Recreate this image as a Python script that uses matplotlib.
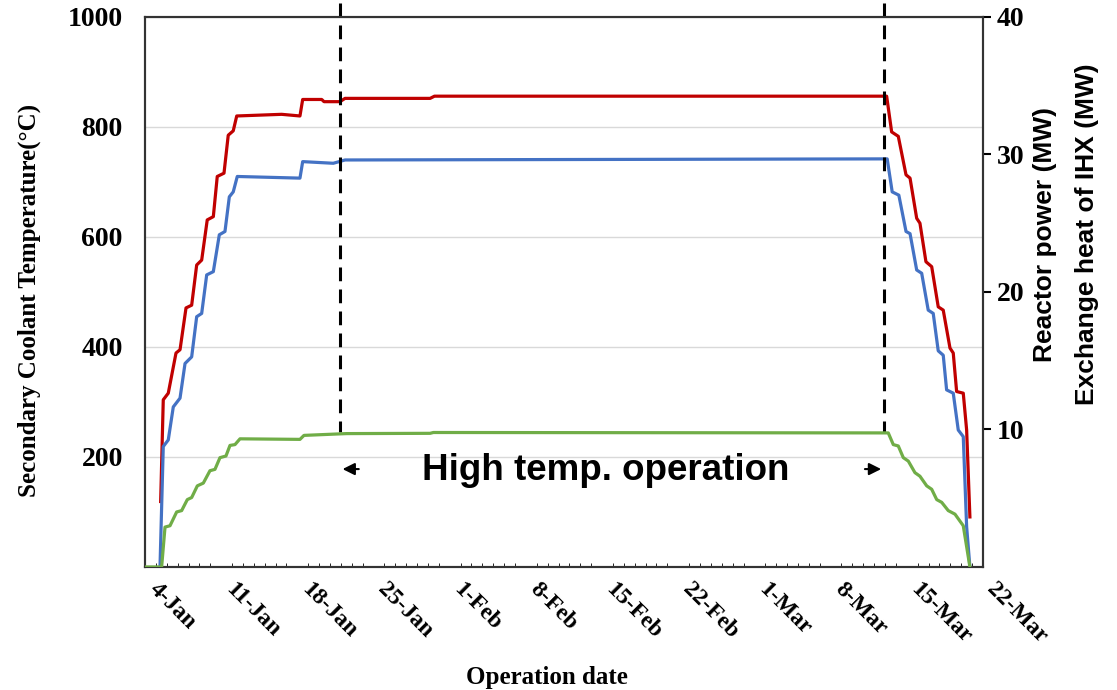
import matplotlib.pyplot as plt

# days counted from 4-Jan
date_labels = ['4-Jan', '11-Jan', '18-Jan', '25-Jan', '1-Feb', '8-Feb',
               '15-Feb', '22-Feb', '1-Mar', '8-Mar', '15-Mar', '22-Mar']

# outlet temperature (red)
red_day = [1.44, 1.68, 2.14, 2.85, 3.22, 3.77, 4.29, 4.75, 5.21, 5.72, 6.28,
           6.64, 7.26, 7.65, 8.11, 8.43, 12.56, 14.24, 14.49, 16.24, 16.45,
           17.92, 18.38, 26.2, 26.6, 68.15, 68.61, 69.22, 69.93, 70.3, 70.91,
           71.21, 71.76, 72.29, 72.89, 73.35, 73.97, 74.27, 74.58, 75.19,
           75.5, 75.8]
red_temp = [119, 304, 316, 389, 395, 471, 476, 549, 558, 631, 637,
            710, 716, 785, 793, 820, 823, 820, 850, 850, 846,
            846, 852, 852, 856, 856, 791, 783, 713, 707, 634,
            625, 555, 546, 473, 467, 398, 389, 319, 316,
            249, 91]

# inlet temperature (blue)
blue_day = [1.38, 1.68, 2.14, 2.6, 3.22, 3.68, 4.29, 4.75, 5.21, 5.67, 6.28,
            6.83, 7.35, 7.75, 8.11, 8.48, 14.24, 14.49, 17.3, 18.38, 68.2,
            68.66, 69.27, 69.93, 70.3, 70.91, 71.37, 71.97, 72.43, 72.89,
            73.35, 73.66, 74.27, 74.73, 75.19, 75.5, 75.8]
blue_temp = [0, 219, 231, 291, 307, 370, 382, 455, 461, 531, 537,
             604, 610, 673, 682, 710, 707, 737, 734, 740, 742,
             682, 676, 610, 606, 540, 534, 467, 461, 393,
             385, 322, 316, 249, 237, 73, 0]

# reactor power (green, MW)
green_day = [0, 1.53, 1.84, 2.3, 2.91, 3.37, 3.89, 4.29, 4.81, 5.36, 5.97,
             6.43, 6.89, 7.44, 7.81, 8.27, 8.73, 14.24, 14.61, 18.53, 26.2,
             26.5, 68.3, 68.76, 69.22, 69.68, 70.14, 70.75, 71.21, 71.83,
             72.29, 72.75, 73.21, 73.81, 74.43, 75.19, 75.8]
green_mw = [0, 0, 2.9, 3.0, 4.0, 4.1, 4.9, 5.05, 5.9, 6.1, 7.0,
            7.1, 7.95, 8.07, 8.84, 8.9, 9.32, 9.28, 9.57, 9.7, 9.72,
            9.78, 9.75, 8.9, 8.8, 7.95, 7.7, 6.86, 6.6, 5.9,
            5.65, 4.9, 4.7, 4.1, 3.84, 3.0, 0]

high_temp_start = 17.9
high_temp_end = 67.9

serif = 'Liberation Serif'
sans = 'Liberation Sans'

fig = plt.figure(figsize=(11.17, 6.9), dpi=100)
ax = fig.add_axes([0.1298, 0.1783, 0.7502, 0.7971])
ax2 = ax.twinx()

ax.plot(red_day, red_temp, color='#c00000', lw=2.3, zorder=3)
ax.plot(blue_day, blue_temp, color='#4472c4', lw=2.3, zorder=3)
ax2.plot(green_day, green_mw, color='#70ad47', lw=2.3, zorder=3)

ax.set_xlim(0, 77)
ax.set_ylim(0, 1000)
ax2.set_ylim(0, 40)

ax.set_yticks([200, 400, 600, 800, 1000])
ax.grid(axis='y', color='#d9d9d9', lw=1)
ax.set_axisbelow(True)
ax.tick_params(axis='y', length=0, pad=16)
for lab in ax.get_yticklabels():
    lab.set_fontfamily(serif)
    lab.set_fontweight('bold')
    lab.set_fontsize(20)

ax2.set_yticks([10, 20, 30, 40])
ax2.tick_params(axis='y', length=6, width=1.5, pad=4)
for lab in ax2.get_yticklabels():
    lab.set_fontfamily(serif)
    lab.set_fontweight('bold')
    lab.set_fontsize(20)

ax.set_xticks(range(0, 78, 7))
ax.set_xticklabels(date_labels, rotation=-45, ha='left', va='bottom',
                   rotation_mode='anchor', fontfamily=serif,
                   fontweight='bold', fontsize=17)
ax.set_xticks(range(0, 78), minor=True)
ax.tick_params(axis='x', which='major', length=0, pad=19)
ax.tick_params(axis='x', which='minor', length=3, direction='in')

for a in (ax, ax2):
    for s in a.spines.values():
        s.set_color('#333333')
        s.set_linewidth(1.5)

# dashed markers for the high temperature period
for d in (high_temp_start, high_temp_end):
    ax.plot([d, d], [1025, 246], color='black', lw=2.2,
            ls=(0, (4.5, 2.7)), clip_on=False, zorder=4)

ax.annotate('', xy=(high_temp_start, 178), xytext=(high_temp_start + 2, 178),
            arrowprops=dict(arrowstyle='-|>', color='black', lw=1.5,
                            mutation_scale=18))
ax.annotate('', xy=(high_temp_end, 178), xytext=(high_temp_end - 2, 178),
            arrowprops=dict(arrowstyle='-|>', color='black', lw=1.5,
                            mutation_scale=18))
ax.text((high_temp_start + high_temp_end) / 2 - 0.6, 176, 'High temp. operation',
        ha='center', va='center', fontfamily=sans, fontweight='bold',
        fontsize=26.5)

fig.text(0.026, 0.565, 'Secondary Coolant Temperature(°C)', rotation=90,
         ha='center', va='center', fontfamily=serif, fontweight='bold',
         fontsize=18)
fig.text(0.9545, 0.66, 'Reactor power (MW)\nExchange heat of IHX (MW)',
         rotation=90, ha='center', va='center', multialignment='center',
         fontfamily=sans, fontweight='bold', fontsize=19, linespacing=1.95)
fig.text(0.49, 0.018, 'Operation date', ha='center', va='center',
         fontfamily=serif, fontweight='bold', fontsize=18)

fig.savefig('out.png', dpi=100)
